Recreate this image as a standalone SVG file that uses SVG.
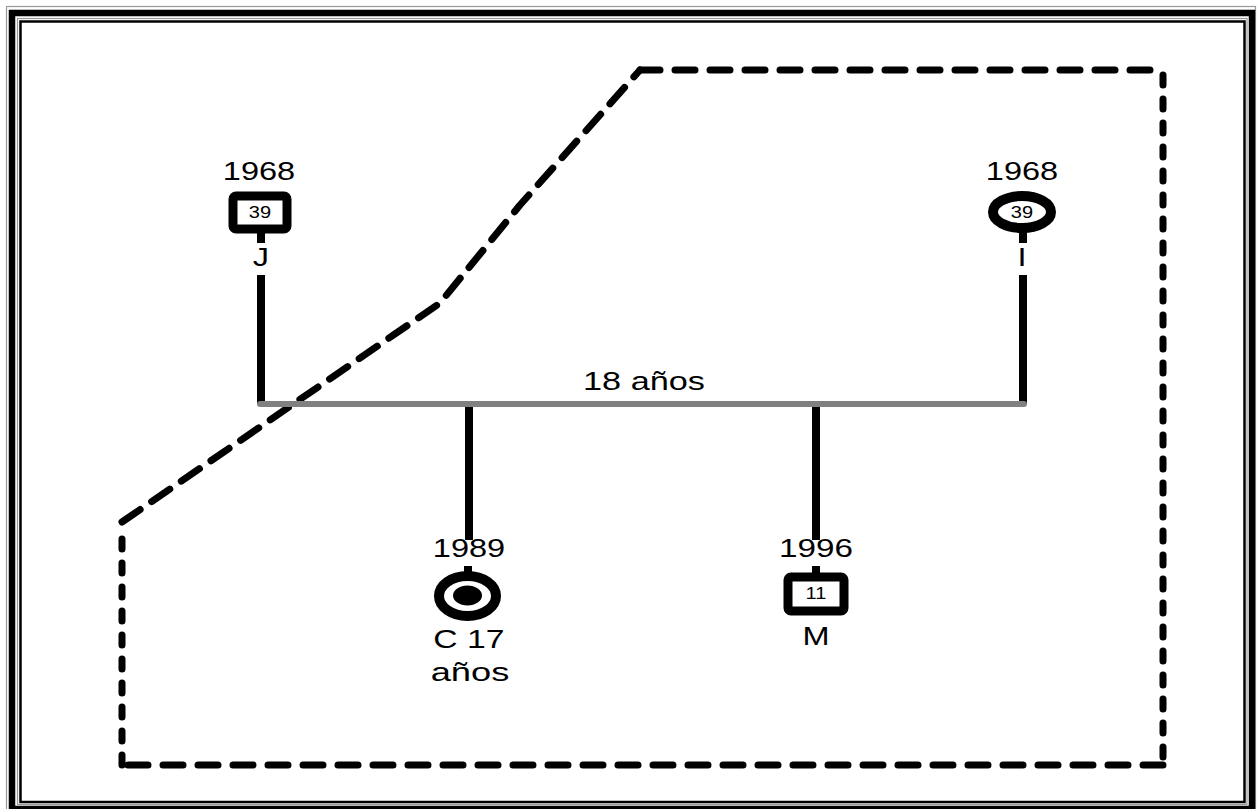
<svg xmlns="http://www.w3.org/2000/svg" width="1258" height="809" viewBox="0 0 1258 809">
<style>
.t{font-family:"Liberation Sans",Arial,sans-serif;font-size:25px;fill:#000;text-anchor:middle}
.s{font-family:"Liberation Sans",Arial,sans-serif;font-size:16px;fill:#000;text-anchor:middle}
.dash{fill:none;stroke:#000;stroke-width:7;stroke-linecap:round;stroke-linejoin:round}
.v{fill:none;stroke:#000;stroke-width:8}
.box{fill:#fff;stroke:#000;stroke-width:9;stroke-linejoin:round}
</style>
<rect width="1258" height="809" fill="#fff"/>
<g id="border" fill="none">
<rect x="6.5" y="6.5" width="1249" height="815" stroke="#999" stroke-width="1.2"/>
<rect x="12" y="13" width="1240" height="796" stroke="#000" stroke-width="6.5"/>
<rect x="17.5" y="18.5" width="1229.5" height="786" stroke="#999" stroke-width="1.2"/>
<rect x="20.5" y="21.5" width="1224" height="780.5" stroke="#000" stroke-width="2.5"/>
</g>
<g id="household">
<path class="dash" d="M640,70 H1163" stroke-dasharray="20 15"/>
<path class="dash" d="M1163,75 V765" stroke-dasharray="10 14"/>
<path class="dash" d="M1163,765 H122" stroke-dasharray="20 15"/>
<path class="dash" d="M122,765 V525" stroke-dasharray="10 14"/>
<path class="dash" d="M122,522 L440,303 L520,205 L640,70" stroke-dasharray="22 14"/>
</g>
<g id="connectors">
<line class="v" x1="261" y1="275" x2="261" y2="404"/>
<line class="v" x1="1023" y1="275" x2="1023" y2="404"/>
<line x1="260" y1="404" x2="1024" y2="404" stroke="#808080" stroke-width="6" stroke-linecap="round"/>
<line class="v" x1="469" y1="407" x2="469" y2="540"/>
<line class="v" x1="816" y1="407" x2="816" y2="540"/>
<text class="t" transform="translate(644,390) scale(1.37,1)">18 años</text>
</g>
<g id="J">
<text class="t" transform="translate(259,180) scale(1.3,1)">1968</text>
<rect class="box" x="233" y="196" width="54" height="33" rx="3"/>
<text class="s" transform="translate(260,218) scale(1.25,1)">39</text>
<line class="v" x1="261" y1="232" x2="261" y2="243"/>
<text class="t" transform="translate(261,266) scale(1.3,1)">J</text>
</g>
<g id="I">
<text class="t" transform="translate(1022,180) scale(1.3,1)">1968</text>
<ellipse cx="1022" cy="212" rx="29" ry="16" fill="#fff" stroke="#000" stroke-width="10"/>
<text class="s" transform="translate(1022,218) scale(1.25,1)">39</text>
<line class="v" x1="1023" y1="232" x2="1023" y2="243"/>
<text class="t" transform="translate(1022,266) scale(1.3,1)">I</text>
</g>
<g id="C">
<text class="t" transform="translate(469,557) scale(1.3,1)">1989</text>
<line class="v" x1="468" y1="566" x2="468" y2="573"/>
<ellipse cx="467.5" cy="596" rx="28.5" ry="20" fill="#fff" stroke="#000" stroke-width="10"/>
<ellipse cx="467.5" cy="595.5" rx="14.5" ry="10" fill="#000"/>
<text class="t" transform="translate(469,648) scale(1.35,1)">C 17</text>
<text class="t" transform="translate(470,681) scale(1.45,1)">años</text>
</g>
<g id="M">
<text class="t" transform="translate(816,557) scale(1.33,1)">1996</text>
<line class="v" x1="816" y1="566" x2="816" y2="574"/>
<rect class="box" x="788" y="577" width="56" height="34" rx="3"/>
<text class="s" transform="translate(816,599) scale(1.25,1)">11</text>
<text class="t" transform="translate(816,645) scale(1.3,1)">M</text>
</g>
</svg>
